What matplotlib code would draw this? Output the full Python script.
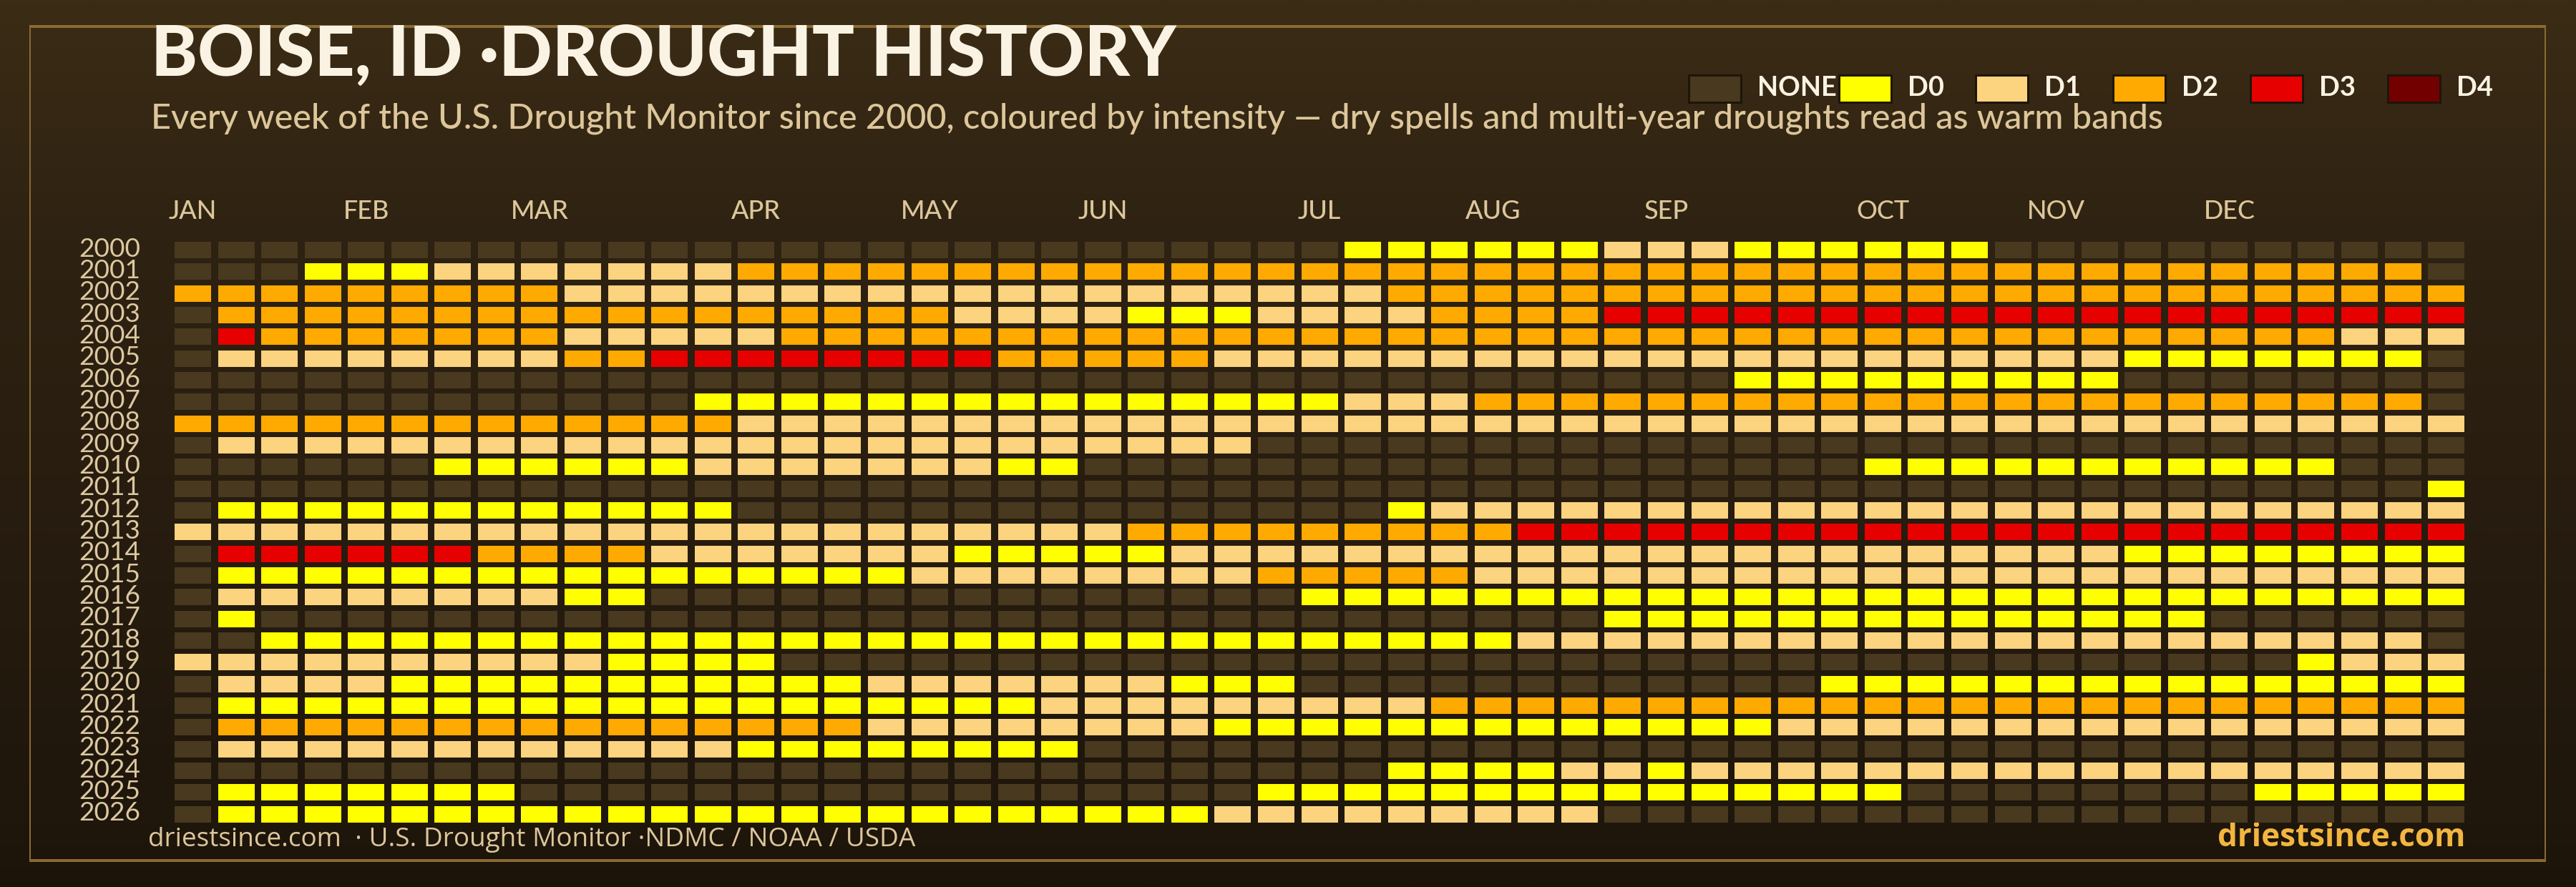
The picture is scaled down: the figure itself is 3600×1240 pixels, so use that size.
import numpy as np
import matplotlib
matplotlib.use("Agg")
import matplotlib.pyplot as plt
from matplotlib.patches import Rectangle
from matplotlib.colors import LinearSegmentedColormap

# ---------------- data ----------------
years = ["2000", "2001", "2002", "2003", "2004", "2005", "2006", "2007", "2008",
         "2009", "2010", "2011", "2012", "2013", "2014", "2015", "2016", "2017",
         "2018", "2019", "2020", "2021", "2022", "2023", "2024", "2025", "2026"]

# weekly drought level per year ('.' = none, '0'..'4' = D0..D4), blocks of 10 weeks
weekly_levels = [
    ".......... .......... .......000 0001110000 00........ ...",   # 2000
    "...0001111 1112222222 2222222222 2222222222 2222222222 22.",   # 2001
    "2222222221 1111111111 1111111122 2222222222 2222222222 222",   # 2002
    ".222222222 2222222211 1100011112 2223333333 3333333333 333",   # 2003
    ".322222221 1111222222 2222222222 2222222222 2222222222 111",   # 2004
    ".111111112 2333333332 2222111111 1111111111 1111100000 00.",   # 2005
    ".......... .......... .......... ......0000 00000..... ...",   # 2006
    ".......... ..00000000 0000000111 2222222222 2222222222 22.",   # 2007
    "2222222222 2221111111 1111111111 1111111111 1111111111 111",   # 2008
    ".111111111 1111111111 11111..... .......... .......... ...",   # 2009
    "......0000 0011111110 0......... .........0 0000000000 ...",   # 2010
    ".......... .......... .......... .......... .......... ..0",   # 2011
    ".000000000 000....... ........01 1111111111 1111111111 111",   # 2012
    "1111111111 1111111111 1122222222 2333333333 3333333333 333",   # 2013
    ".333333222 2111111100 0001111111 1111111111 1111100000 000",   # 2014
    ".000000000 0000000111 1111122222 1111111111 1111111111 111",   # 2015
    ".111111110 0......... ......0000 0000000000 0000000000 000",   # 2016
    ".0........ .......... .......... ...0000000 0000000... ...",   # 2017
    "..00000000 0000000000 0000000000 0111111111 1111111111 11.",   # 2018
    "1111111111 0000...... .......... .......... .........0 111",   # 2019
    ".111100000 0000001111 111000.... ........00 0000000000 000",   # 2020
    ".000000000 0000000000 1111111112 2222222222 2222222222 222",   # 2021
    ".222222222 2222221111 1111000000 0000000111 1111111111 111",   # 2022
    ".111111111 1110000000 0......... .......... .......... ...",   # 2023
    ".......... .......... ........00 0011011111 1111111111 111",   # 2024
    ".0000000.. .......... .....00000 0000000000 ........00 000",   # 2025
    ".000000000 0000000000 0000111111 111....... .......... ...",   # 2026
]

month_labels = ["JAN", "FEB", "MAR", "APR", "MAY", "JUN",
                "JUL", "AUG", "SEP", "OCT", "NOV", "DEC"]
month_weeks = [0, 4, 8, 13, 17, 21, 26, 30, 34, 39, 43, 47]

legend_labels = ["NONE", "D0", "D1", "D2", "D3", "D4"]
level_colors = {".": "#48391f", "0": "#ffff00", "1": "#fcd37f",
                "2": "#ffaa00", "3": "#e60000", "4": "#730000"}
legend_keys = [".", "0", "1", "2", "3", "4"]

# ---------------- figure ----------------
W, H = 3600, 1240
PT = 0.72  # points per pixel at 100 dpi
fig = plt.figure(figsize=(W / 100, H / 100), dpi=100)

bg = fig.add_axes([0, 0, 1, 1], zorder=0)
bg.set_xlim(0, W)
bg.set_ylim(H, 0)
bg.axis("off")
cmap = LinearSegmentedColormap.from_list(
    "bg", [(0.0, "#3b2c15"), (0.27, "#2e2212"), (0.93, "#1f160c"), (1.0, "#1c1409")])
grad = np.linspace(0, 1, 512).reshape(-1, 1)
bg.imshow(grad, cmap=cmap, extent=(0, W, H, 0), aspect="auto", zorder=0)

gold = "#8a6a32"
bg.add_patch(Rectangle((42, 37), 3515, 1166, fill=False, ec=gold, lw=2 * PT, zorder=1))
bg.plot([41, 3558], [37, 37], color=gold, lw=4 * PT, zorder=1, solid_capstyle="butt")
bg.plot([41, 3558], [1203, 1203], color=gold, lw=4 * PT, zorder=1, solid_capstyle="butt")

cream = "#faf3e3"
tan = "#dcc69a"

bg.text(211, 106, "BOISE, ID \u00b7DROUGHT HISTORY", fontsize=98 * PT, fontweight="black",
        family="Lato", color=cream, va="baseline", ha="left", zorder=3)
bg.text(211, 180, "Every week of the U.S. Drought Monitor since 2000, coloured by intensity \u2014 "
        "dry spells and multi-year droughts read as warm bands",
        fontsize=48.6 * PT, family="Lato", fontweight="medium", color=tan,
        va="baseline", ha="left", zorder=3)

# legend
swatch_x = [2360, 2570, 2761, 2953, 3145, 3337]
for sx, key, lab in zip(swatch_x, legend_keys, legend_labels):
    bg.add_patch(Rectangle((sx, 105), 73, 38, fc=level_colors[key], ec="#1e150a",
                           lw=3 * PT, zorder=3))
    bg.text(sx + 96, 134, lab, fontsize=38 * PT, fontweight="bold", family="Lato",
            color=cream, va="baseline", ha="left", zorder=3)

# footer
bg.text(207, 1183, "driestsince.com  \u00b7 U.S. Drought Monitor \u00b7NDMC / NOAA / USDA",
        fontsize=37 * PT, family="Open Sans", color=tan, va="baseline", ha="left", zorder=3)
bg.text(3445, 1183, "driestsince.com", fontsize=44 * PT, family="Open Sans", fontweight="bold",
        color="#f2b640", va="baseline", ha="right", zorder=3)

# ---------------- grid ----------------
col_pitch, row_pitch = 60.56, 30.33
ax_left = 244 - (col_pitch - 51) / 2
ax_top = 338 - (row_pitch - 23) / 2
ax_w = 53 * col_pitch
ax_h = 27 * row_pitch
ax = fig.add_axes([ax_left / W, 1 - (ax_top + ax_h) / H, ax_w / W, ax_h / H], zorder=2)
ax.set_facecolor("none")
ax.set_xlim(-0.5, 52.5)
ax.set_ylim(26.5, -0.5)
ax.axis("off")

cell_w = 51 / col_pitch
cell_h = 23 / row_pitch
for yi, row in enumerate(weekly_levels):
    levels = row.replace(" ", "")
    assert len(levels) == 53, (years[yi], len(levels))
    weeks = np.arange(len(levels))
    colors = [level_colors[c] for c in levels]
    ax.bar(weeks, cell_h, bottom=yi - cell_h / 2, width=cell_w, color=colors, linewidth=0)

year_x = -0.5 - (ax_left - 196) / col_pitch
for yi, y in enumerate(years):
    ax.text(year_x, yi + 0.30, y, ha="right", va="baseline", fontsize=37 * PT,
            family="Lato", color="#dcc8a0", clip_on=False)

month_y = -0.5 - (ax_top - 306) / row_pitch
for wk, m in zip(month_weeks, month_labels):
    ax.text(wk, month_y, m, ha="center", va="baseline", fontsize=36 * PT,
            family="Lato", fontweight="medium", color=tan, clip_on=False)

fig.savefig("out.png", dpi=100, facecolor="#1c1409")
